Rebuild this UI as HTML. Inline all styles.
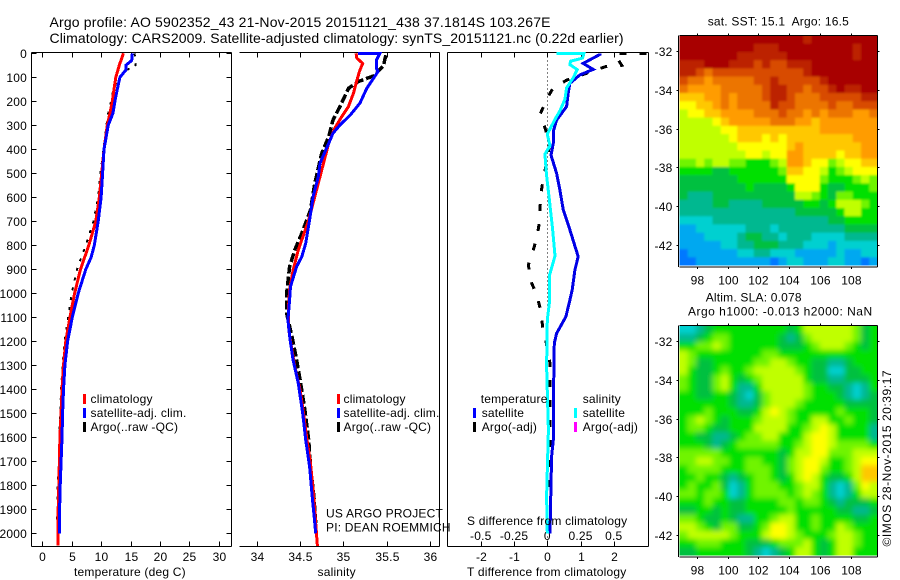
<!DOCTYPE html>
<html>
<head>
<meta charset="utf-8">
<title>Argo profile chart</title>
<style>
html,body{margin:0;padding:0;background:#fff}
svg{display:block}
text{font-family:"Liberation Sans",sans-serif;font-size:12px;fill:#000;letter-spacing:0.2px}
text.title{font-size:14px;letter-spacing:0}
</style>
</head>
<body>
<svg id="chart" xmlns="http://www.w3.org/2000/svg" width="900" height="580" viewBox="0 0 900 580">
<defs>
<clipPath id="clip-sst"><rect x="679.5" y="35.5" width="198" height="230"/></clipPath>
<clipPath id="clip-sla"><rect x="679.5" y="325.5" width="198" height="230"/></clipPath>
<filter id="blur-sst" x="-10%" y="-10%" width="120%" height="120%"><feGaussianBlur stdDeviation="1"/></filter>
<filter id="blur-sla" x="-10%" y="-10%" width="120%" height="120%"><feGaussianBlur stdDeviation="2.6"/></filter>
</defs>
<text class="title" x="49.5" y="27" textLength="501" lengthAdjust="spacing">Argo profile: AO 5902352_43 21-Nov-2015 20151121_438 37.1814S 103.267E</text>
<text class="title" x="49.5" y="43" textLength="574" lengthAdjust="spacing">Climatology: CARS2009. Satellite-adjusted climatology: synTS_20151121.nc (0.22d earlier)</text>
<g id="layer"></g>
</svg>
<script>
// ---------- depth profile data ----------
const climTDepth = [0,50,100,150,200,250,300,400,500,600,700,800,900,1000,1100,1200,1300,1400,1500,1600,1700,1800,1900,2000,2050];
const climT = [13.8,13.1,12.5,12.2,11.9,11.5,11.05,10.5,10.1,9.7,9.1,7.9,6.5,5.5,4.7,4.0,3.6,3.35,3.2,3.0,2.9,2.8,2.7,2.65,2.65];
const satTDepth = [0,30,50,70,100,150,200,250,300,400,500,600,700,800,850,900,1000,1100,1200,1300,1400,1500,1600,1700,1800,1900,2000];
const satT = [15.3,15.2,14.2,14.2,13.2,12.75,12.35,12,11.2,10.5,10.25,10,9.5,8.85,8.3,7.4,6.1,5.1,4.3,3.85,3.6,3.45,3.35,3.2,3.05,2.95,2.9];
const argoTDepth = [0,30,55,70,100,150,200,250,300,400,500,600,700,800,900,1000,1100,1200,1300,1400,1500,1600,1700,1800,1900,1950];
const argoT = [15.7,15.8,15.9,14.2,13.0,12.1,11.7,11.2,10.9,10.4,9.9,9.5,8.7,7.4,5.9,5.0,4.4,3.8,3.45,3.2,3.05,2.9,2.8,2.6,2.55,2.5];

const climSDepth = [0,20,42,76,125,167,222,264,313,375,431,514,597,694,757,819,903,986,1069,1153,1222,1306,1403,1500,1611,1708,1819,1958,2053];
const climS = [35.146,35.154,35.223,35.185,35.146,35.115,35.058,34.98,34.9,34.83,34.79,34.73,34.67,34.6,34.54,34.48,34.42,34.38,34.365,34.37,34.4,34.44,34.5,34.54,34.58,34.62,34.65,34.68,34.7];
const satSDepth = [0,1,29,63,76,146,208,257,299,333,375,458,514,597,694,792,847,889,972,1028,1111,1194,1278,1375,1500,1611,1722,1847,1958,2000];
const satS = [35.17,35.42,35.38,35.38,35.4,35.27,35.19,35.08,34.96,34.88,34.83,34.73,34.71,34.65,34.61,34.565,34.52,34.46,34.39,34.38,34.36,34.385,34.42,34.48,34.53,34.565,34.61,34.64,34.67,34.68];
const argoSDepth = [8,53,94,118,146,222,278,347,417,542,653,750,819,889,986,1083,1194,1278,1361,1472,1611,1722,1847,1958];
const argoS = [35.49,35.46,35.35,35.17,35.06,34.96,34.88,34.83,34.75,34.67,34.62,34.52,34.44,34.38,34.35,34.345,34.415,34.46,34.5,34.55,34.6,34.62,34.66,34.68];

const dSatTDepth = [0,5,42,67,90,125,166,222,278,326,375,424,500,570,653,736,847,903,986,1028,1097,1167,1208,1472,1611,1680,1875,2000];
const dSatT = [1.58,1.58,1.08,1.38,0.98,0.68,0.63,0.58,0.28,0.18,0.18,0.11,0.28,0.38,0.48,0.68,0.93,0.83,0.75,0.68,0.56,0.28,0.21,0.18,0.18,0.13,0.1,0.08];
const dArgoTDepth = [0,2,29,50,54,112,144,186,255,310,375,424,521,583,646,708,771,819,882,958,1007,1076,1139,1201,1292,1542,1819];
const dArgoT = [2.99,2.03,2.14,2.24,1.78,0.58,0.18,0,-0.22,-0.07,0.06,0.03,-0.12,-0.19,-0.22,-0.24,-0.32,-0.42,-0.57,-0.47,-0.32,-0.19,-0.14,-0.04,0.08,0.08,0.07];
const dSatSDepth = [0,1,20,33,47,68,102,144,192,240,275,337,385,420,510,608,733,844,928,983,1042,1111,1305,1569,1847,2000];
const dSatS = [0.07,0.275,0.265,0.175,0.17,0.225,0.195,0.145,0.132,0.095,0.058,0,0.02,-0.018,-0.005,0.015,0.04,0.058,0.015,0.015,0.015,0,-0.005,0.008,-0.005,0];

// ---------- tick labels ----------
const depthTicks = [0,100,200,300,400,500,600,700,800,900,1000,1100,1200,1300,1400,1500,1600,1700,1800,1900,2000];
const tempTicks = [0,5,10,15,20,25,30];
const salTicks = [34,34.5,35,35.5,36];
const tDiffTicks = [-2,-1,0,1,2];
const sDiffTicks = [-0.5,-0.25,0,0.25,0.5];
const lonTicks = [98,100,102,104,106,108];
const latTicks = [-32,-34,-36,-38,-40,-42];

// ---------- colour levels for the two maps ----------
const levelColors = ['#0078ff','#00a8f0','#00d0d0','#00b890','#00c040','#00e000','#70f400','#c0ff00','#ffff00','#ffc800','#ff9c00','#ec7400','#d84c00','#bc2400','#a80000'];

// ---------- satellite SST grid (level per cell, north to south) ----------
const sstGrid = [
[14,14,14,14,14,14,14,14,14,14,14,14,14,14,14,13,14,14,14,14,14,14,14,14],
[14,14,14,14,14,14,14,14,14,13,13,13,14,14,14,14,14,14,14,14,14,13,14,14],
[14,14,14,14,14,14,14,13,13,13,13,13,13,14,14,14,14,14,14,14,14,13,14,14],
[13,13,13,14,14,14,13,13,13,12,13,12,12,13,13,13,14,14,14,14,14,14,14,14],
[13,13,12,11,12,12,12,12,12,12,12,12,12,12,12,13,14,14,14,14,14,14,14,14],
[12,11,11,10,11,11,11,11,11,12,12,13,12,12,12,12,12,13,14,14,14,14,14,14],
[11,10,10,10,10,11,11,11,11,11,12,13,13,12,12,11,12,12,13,14,13,13,14,14],
[9,9,9,10,10,11,10,11,11,11,12,13,13,12,11,11,11,12,12,12,12,12,13,13],
[8,8,9,9,10,11,10,11,11,11,11,13,12,12,11,11,11,11,12,11,11,12,12,12],
[7,8,8,9,9,10,10,10,10,11,11,11,12,11,11,10,11,10,11,11,11,10,10,11],
[7,7,7,7,8,9,10,10,10,10,10,11,11,11,10,10,9,10,10,10,10,10,10,10],
[7,7,7,7,7,8,8,9,9,9,9,9,9,9,9,9,9,10,10,10,10,10,10,10],
[7,7,7,7,7,7,8,9,9,9,8,9,8,9,9,9,9,9,9,9,9,10,10,10],
[7,7,7,7,7,7,7,8,8,8,8,8,8,9,10,9,9,9,9,9,9,9,10,10],
[7,7,7,7,7,7,7,7,8,8,7,8,8,10,10,9,9,9,9,8,9,9,10,10],
[6,6,7,6,7,7,6,6,5,5,5,6,7,10,10,9,8,8,6,7,8,8,9,9],
[5,5,5,5,4,4,5,5,5,5,5,5,6,9,9,8,8,7,5,6,7,8,8,8],
[4,4,4,4,4,4,4,5,5,5,5,5,5,8,8,8,8,6,5,5,5,6,7,6],
[4,4,4,4,4,4,4,4,5,4,4,4,4,5,8,8,8,5,4,4,5,5,5,6],
[4,3,3,3,4,4,4,4,4,4,4,4,4,4,7,7,6,5,4,6,6,5,5,5],
[3,3,3,3,4,4,3,3,3,3,4,4,4,4,4,5,5,4,5,7,7,7,6,5],
[3,3,3,3,3,3,3,3,3,3,3,3,3,3,4,4,4,4,4,5,7,7,5,5],
[2,2,2,2,3,3,3,3,3,3,3,3,3,3,3,3,3,3,4,4,5,5,5,5],
[1,1,2,2,2,2,2,2,3,3,3,2,3,3,3,3,3,3,3,3,4,4,4,4],
[1,1,1,2,2,2,2,3,4,4,3,3,2,3,3,3,2,2,2,2,3,3,3,3],
[1,1,1,1,1,2,2,3,3,4,4,4,3,3,3,2,2,2,1,2,2,2,2,2],
[0,1,1,1,1,1,1,2,2,3,3,2,2,2,1,1,1,1,1,2,1,1,2,2],
[0,0,1,1,1,1,1,1,1,1,1,0,1,2,2,1,1,1,2,2,1,1,0,1]
];

// ---------- altimeter SLA grid (level per cell, north to south) ----------
const slaGrid = [
[2,2,3,4,5,5,5,5,5,5,5,5,5,4,5,7,7,7,7,7,7,6,4,5],
[3,3,4,5,6,6,5,5,5,5,5,5,4,3,4,6,7,7,7,7,7,6,4,5],
[5,5,6,6,7,6,5,5,5,5,5,5,4,4,4,5,6,7,7,7,6,5,4,5],
[7,6,5,5,5,5,5,5,5,5,6,6,5,5,5,5,5,5,5,5,5,5,5,5],
[7,6,4,4,5,5,5,5,5,6,6,7,7,6,5,5,4,4,3,3,4,5,5,5],
[7,5,4,4,5,6,5,5,6,7,7,7,7,7,6,5,4,4,2,2,4,4,5,5],
[6,5,4,4,6,7,5,4,5,6,7,7,7,7,7,5,4,4,3,3,4,4,4,5],
[6,5,4,4,6,7,5,3,3,5,7,7,7,7,7,6,5,5,4,4,3,2,3,5],
[5,5,4,4,5,5,4,3,2,4,6,7,7,7,7,6,5,5,5,4,3,2,3,4],
[5,5,5,5,5,5,4,3,3,4,6,7,7,7,6,5,5,5,5,5,4,4,4,4],
[5,5,5,6,5,5,5,4,4,5,7,8,7,6,5,5,5,5,5,6,5,5,5,4],
[5,6,7,6,5,4,5,5,5,6,7,7,7,6,5,5,7,7,5,5,6,5,5,4],
[5,6,6,5,4,4,5,5,5,7,7,7,7,5,5,6,7,8,7,5,5,5,5,3],
[5,5,4,4,3,3,4,5,6,6,7,7,5,5,5,7,8,8,7,5,5,5,5,3],
[5,5,5,4,3,4,5,6,6,6,6,6,5,5,6,7,8,8,7,6,6,6,6,5],
[6,6,6,6,6,5,5,5,5,5,5,5,4,5,7,7,8,8,6,6,6,7,7,7],
[6,6,7,7,6,6,5,5,6,6,5,5,4,6,7,8,8,7,5,5,6,7,8,8],
[5,6,6,6,6,5,5,5,6,6,6,5,4,6,7,8,8,6,5,5,6,7,9,9],
[5,5,6,5,5,4,3,4,5,6,6,5,4,5,7,8,7,5,4,4,5,7,9,9],
[5,6,5,5,6,4,2,3,5,6,6,6,5,5,6,7,7,5,3,2,3,6,8,7],
[6,6,5,6,6,5,2,3,5,6,6,6,6,5,6,7,6,5,3,2,3,5,7,7],
[5,5,5,6,5,5,4,4,5,5,5,5,6,6,5,6,6,5,4,3,4,4,4,5],
[4,4,5,5,4,5,4,4,5,5,5,5,5,6,5,5,5,5,5,4,4,3,3,4],
[6,6,5,4,4,5,4,3,3,5,5,6,7,7,5,5,6,5,5,5,5,4,4,5],
[7,7,6,5,4,6,6,4,4,5,6,8,8,7,5,5,6,5,5,7,6,5,5,5],
[6,7,7,7,7,7,6,5,5,5,7,8,8,7,6,5,5,5,6,7,7,6,5,5],
[5,5,6,6,6,5,5,5,4,4,4,5,6,6,6,7,5,4,5,7,7,6,5,5],
[4,4,5,5,5,5,5,5,4,3,2,3,4,5,7,7,5,4,5,7,7,5,5,5]
];

// ---------- axis functions ----------
const NS = 'http://www.w3.org/2000/svg';
const layer = document.getElementById('layer');
const yDepth = d => 53.3 + d * 0.24;
const xTemp = v => 42.3 + v * 5.88;
const xSal = v => 256.7 + (v - 34) * 86.7;
const xTDiff = v => 547.3 + v * 33.25;
const xSDiff = v => 547.3 + v * 133;
const xLon = v => 696.7 + (v - 98) * 15.4;
const yLatSst = v => 51 + (-32 - v) * 19.4;
const yLatSla = v => 341 + (-32 - v) * 19.4;

function mk(tag, attrs, parent) {
  const el = document.createElementNS(NS, tag);
  for (const k in attrs) el.setAttribute(k, attrs[k]);
  (parent || layer).appendChild(el);
  return el;
}
function seg(x1, y1, x2, y2, parent) {
  return mk('line', {x1: x1, y1: y1, x2: x2, y2: y2, stroke: '#000', 'stroke-width': 1, 'shape-rendering': 'crispEdges'}, parent);
}
function label(str, x, y, anchor, parent) {
  const t = mk('text', {x: x, y: y, 'text-anchor': anchor || 'start'}, parent);
  t.textContent = str;
  return t;
}
function profile(depths, values, xf, color, width, dash, name) {
  const pts = depths.map((d, i) => xf(values[i]).toFixed(1) + ',' + yDepth(d).toFixed(1)).join(' ');
  const attrs = {points: pts, fill: 'none', stroke: color, 'stroke-width': width, 'shape-rendering': 'crispEdges'};
  if (dash) attrs['stroke-dasharray'] = dash;
  const el = mk('polyline', attrs);
  
  
  return el;
}
function legendBar(x, y, color, name) {
  const el = mk('rect', {x: x, y: y, width: 3, height: 10, fill: color});
  
  
}
function legendText(str, x, y, name) {
  const el = label(str, x, y);
  
  
  return el;
}

// ---------- panel frames ----------
function frame(l, r, hasLeft, name) {
  const g = mk('g', {});
  
  
  seg(l, 52.5, r, 52.5, g);
  seg(l, 546.5, r, 546.5, g);
  seg(r, 52.5, r, 546.5, g);
  if (hasLeft) seg(l, 52.5, l, 546.5, g);
  return g;
}
const f1 = frame(31.5, 231.5, true, 'temperature-axes');
const f2 = frame(239.5, 439.5, false, 'salinity-axes');
const f3 = frame(447.5, 648.5, true, 'difference-axes');

depthTicks.forEach(d => {
  const y = Math.round(yDepth(d)) + 0.5;
  seg(31.5, y, 36.5, y, f1);
  seg(226.5, y, 231.5, y, f1);
  label(String(d), 27, y + 4.5, 'end', f1);
});
tempTicks.forEach(v => {
  const x = Math.round(xTemp(v)) + 0.5;
  seg(x, 52.5, x, 57.5, f1);
  seg(x, 541.5, x, 546.5, f1);
  label(String(v), x, 561, 'middle', f1);
});
salTicks.forEach(v => {
  const x = Math.round(xSal(v)) + 0.5;
  seg(x, 52.5, x, 57.5, f2);
  seg(x, 541.5, x, 546.5, f2);
  label(String(v), x, 561, 'middle', f2);
});
tDiffTicks.forEach(v => {
  const x = Math.round(xTDiff(v)) + 0.5;
  seg(x, 52.5, x, 57.5, f3);
  seg(x, 541.5, x, 546.5, f3);
  label(String(v), x, 561, 'middle', f3);
});
sDiffTicks.forEach(v => {
  label(String(v), xSDiff(v), 540, 'middle', f3);
});

// zero reference
const zeroLine = mk('line', {x1: xTDiff(0), y1: 52.5, x2: xTDiff(0), y2: 546, stroke: '#000', 'stroke-width': 1, 'stroke-dasharray': '1 3', 'shape-rendering': 'crispEdges'});



// ---------- series ----------
profile(argoTDepth, argoT, xTemp, '#000', 2, '3 7', 'argo-temperature');
profile(climTDepth, climT, xTemp, '#ff0000', 3, null, 'climatology-temperature');
profile(satTDepth, satT, xTemp, '#0000ff', 3, null, 'satellite-temperature');

profile(argoSDepth, argoS, xSal, '#000', 3.5, '9 3', 'argo-salinity');
profile(climSDepth, climS, xSal, '#ff0000', 3, null, 'climatology-salinity');
profile(satSDepth, satS, xSal, '#0000ff', 3, null, 'satellite-salinity');

profile(dArgoTDepth, dArgoT, xTDiff, '#000', 3, '7 13', 'argo-temperature-difference');
profile(dSatTDepth, dSatT, xTDiff, '#0000e6', 3, null, 'satellite-temperature-difference');
profile(dSatSDepth, dSatS, xSDiff, '#00ffff', 3, null, 'satellite-salinity-difference');

// ---------- legends and labels ----------
[['#ff0000','climatology',394,403],['#0000ff','satellite-adj. clim.',408,417],['#000','Argo(..raw -QC)',422,431]].forEach((e, i) => {
  legendBar(83, e[2], e[0], 'temp-legend-swatch-' + i);
  legendText(e[1], 90.5, e[3], 'temp-legend-label-' + i);
  legendBar(337, e[2], e[0], 'sal-legend-swatch-' + i);
  legendText(e[1], 343.5, e[3], 'sal-legend-label-' + i);
});
legendText('temperature', 480.7, 403, 'diff-legend-temperature-heading');
legendText('salinity', 582.7, 403, 'diff-legend-salinity-heading');
legendBar(473, 408, '#0000ff', 'diff-legend-swatch-t-sat');
legendText('satellite', 481.7, 417, 'diff-legend-t-sat');
legendBar(473, 422, '#000', 'diff-legend-swatch-t-argo');
legendText('Argo(-adj)', 481.7, 431, 'diff-legend-t-argo');
legendBar(574, 408, '#00ffff', 'diff-legend-swatch-s-sat');
legendText('satellite', 582.7, 417, 'diff-legend-s-sat');
legendBar(574, 422, '#ff00ff', 'diff-legend-swatch-s-argo');
legendText('Argo(-adj)', 582.7, 431, 'diff-legend-s-argo');

legendText('US ARGO PROJECT', 326, 517.5, 'project-label');
legendText('PI: DEAN ROEMMICH', 326, 531.5, 'pi-label');
legendText('S difference from climatology', 467, 525, 's-difference-axis-title');
legendText('temperature (deg C)', 74, 576, 'temperature-axis-title');
legendText('salinity', 317.5, 576, 'salinity-axis-title');
legendText('T difference from climatology', 467, 576, 't-difference-axis-title');
const sstTitle = legendText('sat. SST: 15.1  Argo: 16.5', 707.7, 25.7, 'sst-map-title');
sstTitle.style.whiteSpace = 'pre';
legendText('Altim. SLA: 0.078', 705.7, 301.7, 'sla-map-title');
const slaSub = legendText('Argo h1000: -0.013 h2000: NaN', 688, 315.7, 'sla-map-subtitle');
slaSub.style.letterSpacing = '0.5px';

const stamp = label('\u00A9IMOS 28-Nov-2015 20:39:17', 0, 0);
stamp.setAttribute('transform', 'translate(891,546.5) rotate(-90)');
stamp.style.letterSpacing = '0.55px';



// ---------- maps ----------
function heatmap(grid, top, clipId, blurId, yLat, name) {
  const nRows = grid.length, nCols = grid[0].length;
  const left = 679.5, w = 198, h = 230;
  const cw = w / nCols, ch = h / nRows;
  const clip = mk('g', {'clip-path': 'url(#' + clipId + ')'});
  
  
  const g = mk('g', {filter: 'url(#' + blurId + ')'}, clip);
  grid.forEach((row, r) => {
    row.forEach((v, c) => {
      let x = left + c * cw, y = top + r * ch, cwid = cw + 0.6, chei = ch + 0.6;
      if (c === 0) { x -= 10; cwid += 10; }
      if (c === nCols - 1) cwid += 10;
      if (r === 0) { y -= 10; chei += 10; }
      if (r === nRows - 1) chei += 10;
      const cell = mk('rect', {x: x, y: y, width: cwid, height: chei, fill: levelColors[Math.max(0, Math.min(levelColors.length - 1, Math.round(v)))]}, g);
      
      
    });
  });
  const ax = mk('g', {});
  
  
  const bottom = top + 231.5;
  seg(679.5, top, 877.5, top, ax);
  seg(679.5, bottom, 877.5, bottom, ax);
  seg(678.5, top, 678.5, bottom, ax);
  seg(877.5, top, 877.5, bottom, ax);
  lonTicks.forEach(v => {
    const x = Math.round(xLon(v)) + 0.5;
    seg(x, top - 2, x, top, ax);
    seg(x, bottom, x, bottom + 2, ax);
    label(String(v), x, bottom + 17.5, 'middle', ax);
  });
  latTicks.forEach(v => {
    const y = Math.round(yLat(v)) + 0.5;
    seg(676.5, y, 678.5, y, ax);
    seg(877.5, y, 879.5, y, ax);
    label(String(v), 672.5, y + 4.5, 'end', ax);
  });
}
heatmap(sstGrid, 35.5, 'clip-sst', 'blur-sst', yLatSst, 'sst-map');
heatmap(slaGrid, 325.5, 'clip-sla', 'blur-sla', yLatSla, 'sla-map');
</script>
</body>
</html>
